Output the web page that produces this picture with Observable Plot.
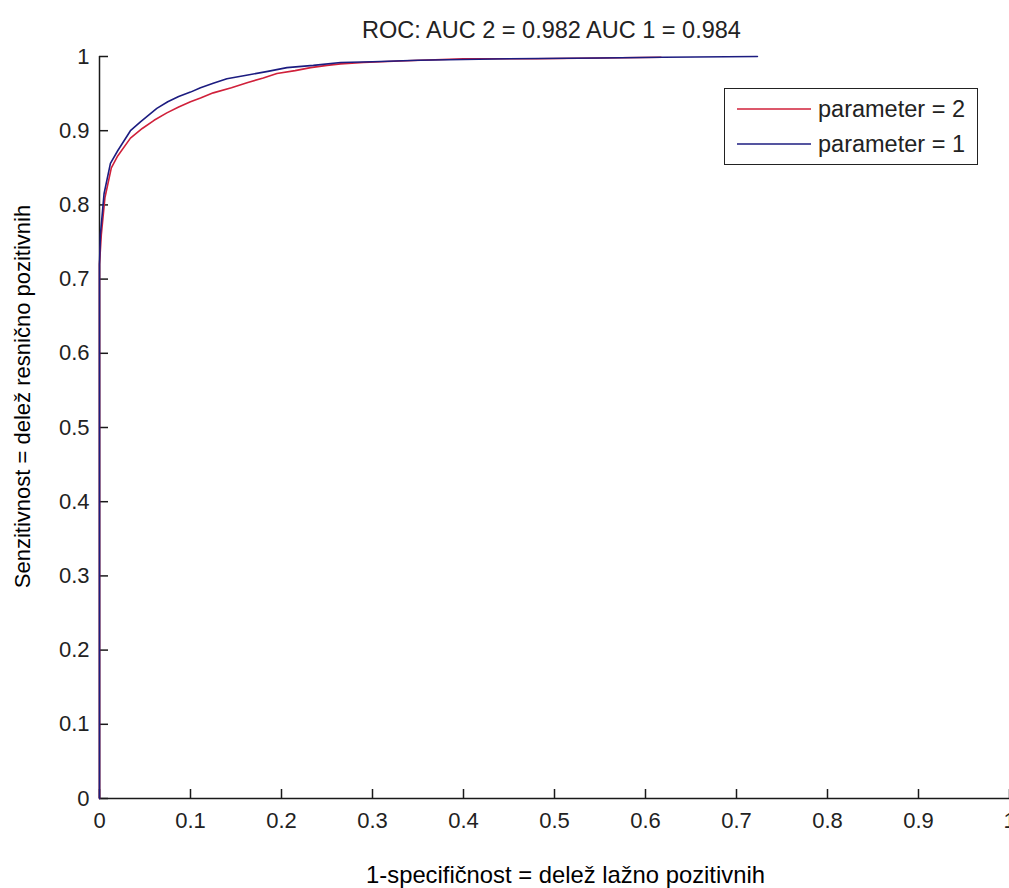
<!DOCTYPE html>
<html>
<head>
<meta charset="utf-8">
<script src="https://cdn.jsdelivr.net/npm/d3@7"></script>
<script src="https://cdn.jsdelivr.net/npm/@observablehq/plot@0.6"></script>
<style>
  body { margin: 0; background: #fff; }
  #wrap { position: relative; width: 1009px; height: 888px; overflow: hidden; font-family: "Liberation Sans", Arial, Helvetica, sans-serif; }
  #legend { position: absolute; left: 724px; top: 88px; width: 252px; height: 75px; border: 1.5px solid #222; background: #fff; }
  .lrow { position: absolute; left: 0; height: 28px; display: flex; align-items: center; white-space: nowrap; }
  .lrow svg { margin-left: 12px; }
  .lrow span { margin-left: 7px; font-size: 23.5px; color: #222; line-height: 28px; }
</style>
</head>
<body>
<div id="wrap"><div id="legend"></div></div>
<script>
// ---- data ----
const titleText = "ROC: AUC 2 = 0.982 AUC 1 = 0.984";
const xLabelText = "1-specifičnost = delež lažno pozitivnih";
const yLabelText = "Senzitivnost = delež resnično pozitivnih";

const seriesNames = ["parameter = 2", "parameter = 1"];
const seriesColors = ["#d0203a", "#1c1c80"];

// parameter = 2 (red)
const fpr2 = [0, 0, 0.002, 0.006, 0.013, 0.02, 0.034, 0.047, 0.06, 0.074, 0.087, 0.1, 0.111, 0.125, 0.145, 0.163, 0.18, 0.195, 0.215, 0.232, 0.25, 0.265, 0.29, 0.33, 0.4, 0.48, 0.55, 0.617];
const tpr2 = [0, 0.72, 0.76, 0.81, 0.85, 0.866, 0.89, 0.903, 0.914, 0.924, 0.932, 0.939, 0.944, 0.951, 0.958, 0.965, 0.971, 0.977, 0.981, 0.985, 0.988, 0.99, 0.992, 0.994, 0.997, 0.997, 0.998, 0.999];

// parameter = 1 (blue)
const fpr1 = [0, 0, 0.001, 0.005, 0.012, 0.02, 0.034, 0.045, 0.063, 0.075, 0.087, 0.1, 0.111, 0.125, 0.14, 0.163, 0.185, 0.206, 0.235, 0.265, 0.3, 0.35, 0.45, 0.55, 0.62, 0.723];
const tpr1 = [0, 0.72, 0.76, 0.815, 0.856, 0.873, 0.9, 0.912, 0.93, 0.939, 0.946, 0.952, 0.958, 0.964, 0.97, 0.975, 0.98, 0.985, 0.988, 0.992, 0.993, 0.995, 0.997, 0.998, 0.999, 1.0];

const xTicks = [0, 0.1, 0.2, 0.3, 0.4, 0.5, 0.6, 0.7, 0.8, 0.9, 1];
const xTickLabels = ["0", "0.1", "0.2", "0.3", "0.4", "0.5", "0.6", "0.7", "0.8", "0.9", "1"];
const yTicks = [0, 0.1, 0.2, 0.3, 0.4, 0.5, 0.6, 0.7, 0.8, 0.9, 1];
const yTickLabels = ["0", "0.1", "0.2", "0.3", "0.4", "0.5", "0.6", "0.7", "0.8", "0.9", "1"];

// ---- build rows ----
const rows2 = fpr2.map((x, i) => ({x, y: tpr2[i], s: seriesNames[0]}));
const rows1 = fpr1.map((x, i) => ({x, y: tpr1[i], s: seriesNames[1]}));

const FONT = '"Liberation Sans", Arial, Helvetica, sans-serif';
const W = 1009, H = 888, ML = 99, MR = 0, MT = 56, MB = 90;
const TICK = 9;

const chart = Plot.plot({
  width: W,
  height: H,
  marginLeft: ML,
  marginRight: MR,
  marginTop: MT,
  marginBottom: MB,
  style: { fontFamily: FONT, fontSize: "22px", color: "#222", background: "#fff", overflow: "visible" },
  x: { domain: [0, 1] },
  y: { domain: [0, 1] },
  marks: [
    // axis lines
    Plot.ruleY([0], { stroke: "#1a1a1a", strokeWidth: 1.5 }),
    Plot.ruleX([0], { stroke: "#1a1a1a", strokeWidth: 1.5 }),
    // inward ticks (MATLAB style)
    Plot.tickX(xTicks, { x: d => d, insetTop: (H - MT - MB) - TICK, stroke: "#1a1a1a", strokeWidth: 1.5 }),
    Plot.tickY(yTicks, { y: d => d, insetRight: (W - ML - MR) - TICK, stroke: "#1a1a1a", strokeWidth: 1.5 }),
    // tick labels
    Plot.axisX(xTicks, { anchor: "bottom", tickSize: 0, tickPadding: 14, tickFormat: (d) => xTickLabels[xTicks.indexOf(d)], label: null, fontSize: 22, fill: "#222" }),
    Plot.axisY(yTicks, { anchor: "left", tickSize: 0, tickPadding: 10, tickFormat: (d) => yTickLabels[yTicks.indexOf(d)], label: null, fontSize: 22, fill: "#222" }),
    // curves
    Plot.line(rows2, { x: "x", y: "y", stroke: seriesColors[0], strokeWidth: 1.6 }),
    Plot.line(rows1, { x: "x", y: "y", stroke: seriesColors[1], strokeWidth: 1.6 }),
    // title and axis labels
    Plot.text([titleText], { text: d => d, frameAnchor: "top", textAnchor: "middle", dx: -3, dy: -26, lineAnchor: "middle", fontSize: 23.5, fill: "#222" }),
    Plot.text([xLabelText], { text: d => d, frameAnchor: "bottom", textAnchor: "middle", dx: 11, dy: 77, lineAnchor: "middle", fontSize: 23.8, fill: "#000" }),
    Plot.text([yLabelText], { text: d => d, frameAnchor: "left", textAnchor: "middle", dx: -77, dy: -31, rotate: -90, lineAnchor: "middle", fontSize: 22, fill: "#000" })
  ]
});

const wrap = document.getElementById("wrap");
wrap.insertBefore(chart, wrap.firstChild);

// legend
const legend = document.getElementById("legend");
const rowCenters = [20, 55];
seriesNames.forEach((name, i) => {
  const row = document.createElement("div");
  row.className = "lrow";
  row.style.top = (rowCenters[i] - 14) + "px";
  row.innerHTML = `<svg width="74" height="28"><line x1="0" x2="74" y1="14" y2="14" stroke="${seriesColors[i]}" stroke-width="1.6"/></svg><span>${name}</span>`;
  legend.appendChild(row);
});
</script>
</body>
</html>
